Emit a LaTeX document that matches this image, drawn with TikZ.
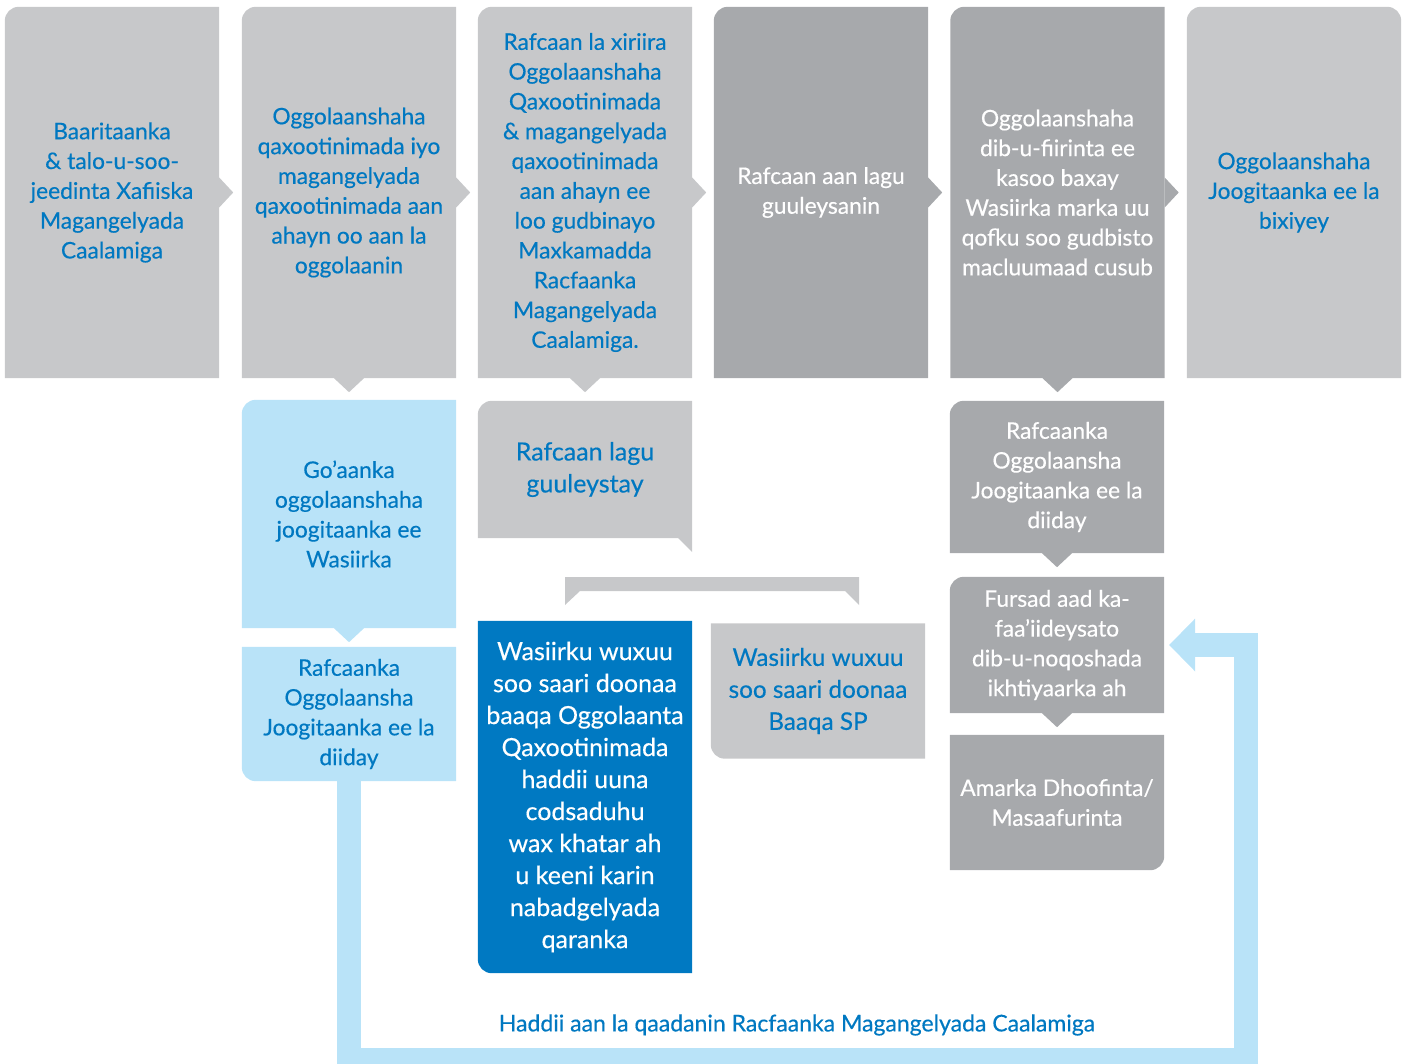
\documentclass[tikz,border=0pt]{standalone}
\usepackage{fontspec}
\setmainfont{Lato}[FakeBold=0.4]
\usetikzlibrary{arrows.meta, calc, backgrounds}

\definecolor{lgray}{HTML}{C7C8CA}
\definecolor{dgray}{HTML}{A7A9AC}
\definecolor{ublue}{HTML}{0078C1}
\definecolor{lblue}{HTML}{B9E3F8}
\definecolor{dblue}{HTML}{0079C2}

\begin{document}
\begin{tikzpicture}[x=1pt, y=-1pt,
  box/.style={minimum width=214pt, inner sep=0pt, align=center, font=\fontsize{22.8}{29.8}\selectfont},
  big/.style={font=\fontsize{25}{32}\selectfont},
  light/.style={text=ublue},
  dark/.style={text=white},
  back/.style={lblue, line width=24pt, -{Triangle[width=53pt, length=26pt, line width=0pt]}}
]
\useasboundingbox (0,0) rectangle (1407,1064);

% top row
\node[box, light, minimum height=371pt] (b1) at (112,192.5) {Baaritaanka\\\& talo-u-soo-\\jeedinta Xafiiska\\Magangelyada\\Caalamiga};
\node[box, light, minimum height=371pt] (b2) at (349,192.5) {Oggolaanshaha\\qaxootinimada iyo\\magangelyada\\qaxootinimada aan\\ahayn oo aan la\\oggolaanin};
\node[box, light, minimum height=371pt] (b3) at (585,192.5) {Rafcaan la xiriira\\Oggolaanshaha\\Qaxootinimada\\\& magangelyada\\qaxootinimada\\aan ahayn ee\\loo gudbinayo\\Maxkamadda\\Racfaanka\\Magangelyada\\Caalamiga.};
\node[box, dark, minimum height=371pt] (b4) at (821,192.5) {Rafcaan aan lagu\\guuleysanin};
\node[box, dark, minimum height=371pt] (b5) at (1057.5,192.5) {Oggolaanshaha\\dib-u-fiirinta ee\\kasoo baxay\\Wasiirka marka uu\\qofku soo gudbisto\\macluumaad cusub};
\node[box, light, minimum height=371pt] (b6) at (1294,192.5) {Oggolaanshaha\\Joogitaanka ee la\\bixiyey};

% second row
\node[box, light, minimum height=228pt] (go) at (349,514) {Go’aanka\\oggolaanshaha\\joogitaanka ee\\Wasiirka};
\node[box, light, minimum height=134pt] (rej1) at (349,714) {Rafcaanka\\Oggolaansha\\Joogitaanka ee la\\diiday};
\node[box, big, light, minimum height=137pt] (won) at (585,469.5) {Rafcaan lagu\\guuleystay};
\node[box, big, dark, minimum height=352pt] (sec) at (585,797) {Wasiirku wuxuu\\soo saari doonaa\\baaqa Oggolaanta\\Qaxootinimada\\haddii uuna\\codsaduhu\\wax khatar ah\\u keeni karin\\nabadgelyada\\qaranka};
\node[box, light, font=\fontsize{24.3}{32}\selectfont, minimum height=135pt] (sp) at (818,691) {Wasiirku wuxuu\\soo saari doonaa\\Baaqa SP};
\node[box, dark, minimum height=152pt] (rej2) at (1057,477) {Rafcaanka\\Oggolaansha\\Joogitaanka ee la\\diiday};
\node[box, dark, minimum height=136pt] (fur) at (1057,645) {Fursad aad ka-\\faa’iideysato\\dib-u-noqoshada\\ikhtiyaarka ah};
\node[box, dark, minimum height=135pt] (ama) at (1057,802.5) {Amarka Dhoofinta/\\Masaafurinta};

\node[font=\fontsize{23}{25}\selectfont, text=ublue] (fail) at (797,1025) {Haddii aan la qaadanin Racfaanka Magangelyada Caalamiga};

\begin{scope}[on background layer]
% box fills, one rounded corner each
\foreach \n/\c in {b1/lgray, b2/lgray, b3/lgray, b4/dgray, b5/dgray, go/lblue, won/lgray, rej2/dgray, fur/dgray}
  \fill[\c] (\n.south west) [rounded corners=14pt] -- (\n.north west) [sharp corners] -- (\n.north east) -- (\n.south east) -- cycle;
\foreach \n/\c in {rej1/lblue, sec/dblue, sp/lgray}
  \fill[\c] (\n.north east) -- (\n.north west) [rounded corners=14pt] -- (\n.south west) [sharp corners] -- (\n.south east) -- cycle;
\fill[dgray] (ama.north west) -- (ama.south west) [rounded corners=14pt] -- (ama.south east) [sharp corners] -- (ama.north east) -- cycle;
\fill[lgray] (b6.south west) [rounded corners=14pt] -- (b6.north west) -- (b6.north east) [sharp corners] -- (b6.south east) -- cycle;

% pointers
\foreach \n/\c in {b1/lgray, b2/lgray, b3/lgray, b4/dgray, b5/dgray}
  \fill[\c] ($(\n.east)+(0,-15)$) -- ($(\n.east)+(14,0)$) -- ($(\n.east)+(0,15)$) -- cycle;
\foreach \n/\c in {b2/lgray, b3/lgray, b5/dgray, go/lblue, rej2/dgray, fur/dgray}
  \fill[\c] ($(\n.south)+(-15,0)$) -- ($(\n.south)+(0,14)$) -- ($(\n.south)+(15,0)$) -- cycle;
\fill[lgray] ($(won.south east)+(-14,0)$) -- (won.south east) -- ($(won.south east)+(0,14)$) -- cycle;

% split bar
\fill[lgray] (565,577) -- (859,577) -- (859,605) -- (845,591) -- (580,591) -- (565,605) -- cycle;
\end{scope}

% back loop
\draw[back] (rej1.south) |- (1246,1060) |- ($(fur.east)+(5,0)$);

\end{tikzpicture}
\end{document}
